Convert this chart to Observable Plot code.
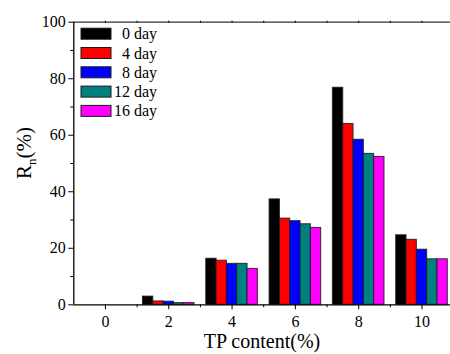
<!DOCTYPE html>
<html>
<head>
<meta charset="utf-8">
<script src="https://cdn.jsdelivr.net/npm/d3@7"></script>
<script src="https://cdn.jsdelivr.net/npm/@observablehq/plot@0.6"></script>
<style>
  html, body { margin: 0; padding: 0; background: #fff; }
  #chart { width: 450px; height: 354px; overflow: hidden; }
  #chart svg text { font-family: 'Liberation Serif', 'Times New Roman', serif !important; fill: #000; font-variant: normal !important; }
</style>
</head>
<body>
<div id="chart"></div>
<script>
// ---- data ----
const tpContent = [0, 2, 4, 6, 8, 10];
const seriesNames = ["0 day", "4 day", "8 day", "12 day", "16 day"];
const seriesColors = ["#000000", "#ff0000", "#0000ff", "#008080", "#ff00ff"];
const day0  = [0, 2.9, 16.3, 37.3, 76.8, 24.6];
const day4  = [0, 1.2, 15.6, 30.5, 64.0, 23.0];
const day8  = [0, 1.1, 14.5, 29.6, 58.4, 19.5];
const day12 = [0, 0.6, 14.5, 28.5, 53.4, 16.1];
const day16 = [0, 0.6, 12.7, 27.2, 52.3, 16.1];
const yTicks = [0, 20, 40, 60, 80, 100];
const xTicks = [0, 2, 4, 6, 8, 10];

const seriesValues = [day0, day4, day8, day12, day16];
const barW = 0.326; // width of one bar in x units
const rows = [];
seriesValues.forEach((vals, si) => {
  vals.forEach((v, ci) => {
    const x1 = tpContent[ci] + (si - seriesNames.length / 2) * barW;
    rows.push({series: seriesNames[si], tp: tpContent[ci], value: v, x1, x2: x1 + barW});
  });
});

const font = "'Liberation Serif', 'Times New Roman', serif";
const W = 450, H = 354;
const mL = 73.3, mT = 21.7, mB = H - 304.3, mR = 0;

const minorY = d3.range(10, 100, 20);
const minorX = d3.range(1, 11, 2);
const topTicks = d3.range(0, 11, 1);

const plot = Plot.plot({
  width: W,
  height: H,
  marginLeft: mL,
  marginTop: mT,
  marginBottom: mB,
  marginRight: mR,
  style: {fontFamily: font, background: "#fff", overflow: "visible"},
  x: {domain: [-1, 10.9], axis: null},
  y: {domain: [0, 100], axis: null},
  color: {domain: seriesNames, range: seriesColors},
  marks: [
    Plot.rectY(rows, {
      x1: "x1", x2: "x2", y1: 0, y2: "value",
      fill: "series", stroke: "#1a1a1a", strokeWidth: 1, strokeOpacity: 0.85
    }),
    // axis lines / frame
    Plot.ruleY([0], {stroke: "#000", strokeWidth: 1.3}),
    Plot.ruleY([100], {stroke: "#333", strokeWidth: 1.3}),
    Plot.ruleX([-1], {stroke: "#000", strokeWidth: 1.3}),
    // y axis
    Plot.axisY({ticks: yTicks, tickSize: 5, tickPadding: 3, fontSize: 16, label: null}),
    Plot.axisY({ticks: minorY, tickSize: 3, tickFormat: () => "", label: null}),
    // x axis
    Plot.axisX({ticks: xTicks, tickSize: 5, tickPadding: 6, fontSize: 16, label: null}),
    Plot.axisX({ticks: minorX, tickSize: 3, tickFormat: () => "", label: null}),
    // top mirror ticks (short, upward)
    Plot.axisX({anchor: "top", ticks: topTicks, tickSize: 2, tickFormat: () => "", label: null})
  ]
});

document.getElementById("chart").appendChild(plot);

const svg = d3.select(plot);

// x title
svg.append("text")
  .attr("x", 262).attr("y", 348)
  .attr("text-anchor", "middle")
  .style("font-size", "20px")
  .text("TP content(%)");

// y title with subscript
const yt = svg.append("text")
  .attr("transform", "translate(31,153) rotate(-90)")
  .attr("text-anchor", "middle")
  .style("font-size", "21px");
yt.append("tspan").text("R");
yt.append("tspan").attr("dy", 5).style("font-size", "13px").text("n");
yt.append("tspan").attr("dy", -5).text("(%)");

// legend
const lg = svg.append("g");
seriesNames.forEach((name, i) => {
  const cy = 33.7 + i * 19.3;
  lg.append("rect")
    .attr("x", 81).attr("y", cy - 5.5).attr("width", 30).attr("height", 11)
    .attr("fill", seriesColors[i]).attr("stroke", "#1a1a1a").attr("stroke-width", 1);
  lg.append("text")
    .attr("x", 157).attr("y", cy + 5.5)
    .attr("text-anchor", "end")
    .style("font-size", "16px")
    .text(name);
});
</script>
</body>
</html>
